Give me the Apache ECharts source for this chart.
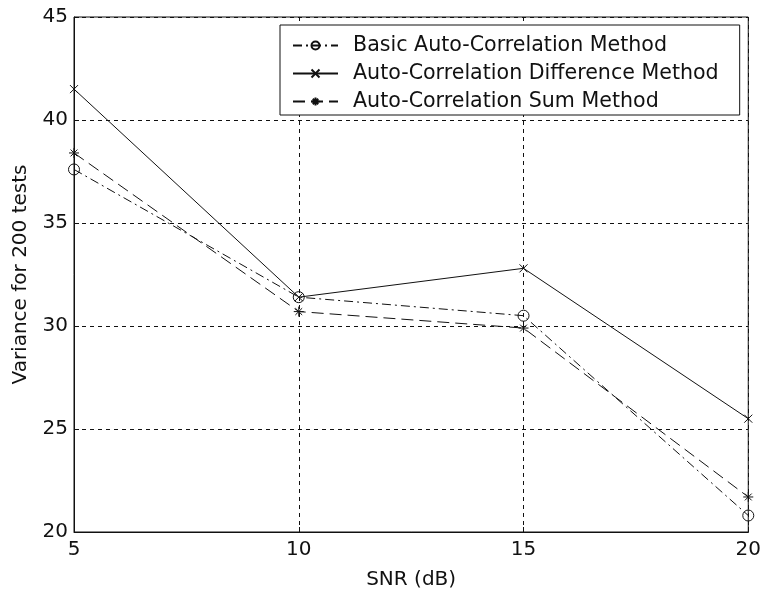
<!DOCTYPE html>
<html>
<head>
<meta charset="utf-8">
<script src="https://cdn.jsdelivr.net/npm/echarts@6/dist/echarts.min.js"></script>
<style>
  html, body { margin: 0; padding: 0; background: #fff; }
  #chart { width: 764px; height: 598px; }
</style>
</head>
<body>
<div id="chart"></div>
<script>
// SNR levels on the x axis (dB)
const snr = [5, 10, 15, 20];
const yTicks = [20, 25, 30, 35, 40, 45];

// Variance over 200 tests for each estimation method
const basicAutoCorr = [37.6, 31.4, 30.5, 20.8];
const diffAutoCorr  = [41.5, 31.4, 32.8, 25.5];
const sumAutoCorr   = [38.4, 30.7, 29.9, 21.7];

const seriesNames = [
  'Basic Auto-Correlation Method',
  'Auto-Correlation Difference Method',
  'Auto-Correlation Sum Method'
];

const FONT = 'DejaVu Sans';
const INK = '#111';

// Stroked marker shapes: a hollow ring, a cross and an eight-ray asterisk
const ringSymbol = 'path://M10,5A5,5,0,1,1,0,5A5,5,0,1,1,10,5Z';
const crossSymbol = 'path://M0,0L10,10M10,0L0,10';
const starSymbol = 'path://M0,5L10,5M5,0L5,10M1.6,1.6L8.4,8.4M8.4,1.6L1.6,8.4';

function pairs(values) {
  return snr.map((x, i) => [x, values[i]]);
}

function makeSeries(name, values, symbol, size, dash) {
  return {
    name: name,
    type: 'line',
    data: pairs(values),
    symbol: symbol,
    symbolSize: size,
    showAllSymbol: true,
    lineStyle: { color: INK, width: 1, type: dash },
    itemStyle: { color: 'none', borderColor: INK, borderWidth: 1 },
    emphasis: { disabled: true },
    animation: false
  };
}

const chart = echarts.init(document.getElementById('chart'), null, { renderer: 'canvas' });

chart.setOption({
  backgroundColor: '#fff',
  animation: false,
  grid: {
    left: 74, right: 15, top: 17, bottom: 66,
    show: true, borderColor: INK, borderWidth: 1, backgroundColor: 'transparent'
  },
  xAxis: {
    type: 'value',
    min: snr[0], max: snr[snr.length - 1], interval: 5,
    name: 'SNR (dB)', nameLocation: 'middle', nameGap: 38,
    nameTextStyle: { fontFamily: FONT, fontSize: 20, color: INK },
    axisLine: { show: true, lineStyle: { color: INK, width: 1 } },
    axisTick: { show: true, inside: true, length: 5, lineStyle: { color: INK } },
    axisLabel: { fontFamily: FONT, fontSize: 20, color: INK, margin: 8 },
    splitLine: { show: true, lineStyle: { color: INK, width: 1, type: [4, 4] } }
  },
  yAxis: {
    type: 'value',
    min: yTicks[0], max: yTicks[yTicks.length - 1], interval: 5,
    name: 'Variance for 200 tests', nameLocation: 'middle', nameGap: 43,
    nameTextStyle: { fontFamily: FONT, fontSize: 20, color: INK },
    axisLine: { show: true, lineStyle: { color: INK, width: 1 } },
    axisTick: { show: true, inside: true, length: 5, lineStyle: { color: INK } },
    axisLabel: { fontFamily: FONT, fontSize: 20, color: INK, margin: 6 },
    splitLine: { show: true, lineStyle: { color: INK, width: 1, type: [4, 4] } }
  },
  legend: {
    orient: 'vertical',
    left: 280, top: 25,
    padding: [10, 21, 3, 12],
    itemGap: 7,
    itemWidth: 45, itemHeight: 10,
    borderColor: INK, borderWidth: 1,
    backgroundColor: '#fff',
    selectedMode: false,
    textStyle: { fontFamily: FONT, fontSize: 20.6, color: INK, padding: [0, 0, 0, 10], lineHeight: 20 },
    data: seriesNames
  },
  series: [
    makeSeries(seriesNames[0], basicAutoCorr, ringSymbol, 11, [9, 4, 2, 4]),
    makeSeries(seriesNames[1], diffAutoCorr, crossSymbol, 8, 'solid'),
    makeSeries(seriesNames[2], sumAutoCorr, starSymbol, 10, [12, 6])
  ]
});
</script>
</body>
</html>
